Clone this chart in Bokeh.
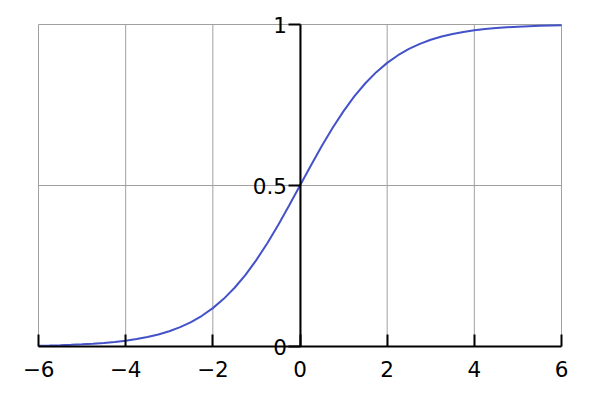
from bokeh.plotting import figure
from bokeh.models import LinearAxis, FixedTicker, ColumnDataSource
from bokeh.embed import file_html
from bokeh.resources import INLINE

x_vals = [-6, -5.75, -5.5, -5.25, -5, -4.75, -4.5, -4.25, -4, -3.75, -3.5, -3.25,
          -3, -2.75, -2.5, -2.25, -2, -1.75, -1.5, -1.25, -1, -0.75, -0.5, -0.25,
          0, 0.25, 0.5, 0.75, 1, 1.25, 1.5, 1.75, 2, 2.25, 2.5, 2.75, 3, 3.25,
          3.5, 3.75, 4, 4.25, 4.5, 4.75, 5, 5.25, 5.5, 5.75, 6]
y_vals = [0.0025, 0.0032, 0.0041, 0.0052, 0.0067, 0.0086, 0.0110, 0.0141, 0.0180,
          0.0230, 0.0293, 0.0373, 0.0474, 0.0601, 0.0759, 0.0954, 0.1192, 0.1480,
          0.1824, 0.2227, 0.2689, 0.3208, 0.3775, 0.4378, 0.5, 0.5622, 0.6225,
          0.6792, 0.7311, 0.7773, 0.8176, 0.8520, 0.8808, 0.9046, 0.9241, 0.9399,
          0.9526, 0.9627, 0.9707, 0.9770, 0.9820, 0.9859, 0.9890, 0.9914, 0.9933,
          0.9948, 0.9959, 0.9968, 0.9975]
x_ticks = [-6, -4, -2, 0, 2, 4, 6]
x_tick_labels = ["\u22126", "\u22124", "\u22122", "0", "2", "4", "6"]
y_ticks = [0, 0.5, 1]
y_tick_labels = ["0", "0.5", "1"]

FONT = "DejaVu Sans"
FSIZE = "21.5px"

# pixel geometry: x=-6 at 38px, x=6 at 561px; y=1 at 24px, y=0 at 346px
px_x = (561 - 38) / 12.0
px_y = (346 - 24) / 1.0
left, right, top, bottom = 16, 580, 8, 390
x_start = -6 - (38 - left) / px_x
x_end = 6 + (right - 561) / px_x
y_end = 1 + (24 - top) / px_y
y_start = -(bottom - 346) / px_y

x_lo, x_hi = x_ticks[0], x_ticks[-1]
y_lo, y_hi = y_ticks[0], y_ticks[-1]

p = figure(frame_width=right - left, frame_height=bottom - top,
           x_range=(x_start, x_end), y_range=(y_start, y_end),
           x_axis_type=None, y_axis_type=None, output_backend="svg",
           toolbar_location=None, min_border_left=left, min_border_top=top,
           min_border_right=4, min_border_bottom=2)
p.outline_line_color = None
p.background_fill_color = "white"
p.border_fill_color = "white"
p.xgrid.visible = False
p.ygrid.visible = False

# grid lines limited to the data box
vsrc = ColumnDataSource(dict(x0=x_ticks, x1=x_ticks,
                             y0=[y_lo] * len(x_ticks), y1=[y_hi] * len(x_ticks)))
p.segment("x0", "y0", "x1", "y1", source=vsrc, line_color="#a0a0a0", line_width=1)
hsrc = ColumnDataSource(dict(y0=y_ticks[1:], y1=y_ticks[1:],
                             x0=[x_lo] * (len(y_ticks) - 1), x1=[x_hi] * (len(y_ticks) - 1)))
p.segment("x0", "y0", "x1", "y1", source=hsrc, line_color="#a0a0a0", line_width=1)

src = ColumnDataSource(dict(x=x_vals, y=y_vals))
p.line("x", "y", source=src, line_color="#4352c8", line_width=2)

xt = FixedTicker(ticks=x_ticks)
yt = FixedTicker(ticks=y_ticks)

xa = LinearAxis(ticker=xt, fixed_location=0, bounds=(x_lo, x_hi),
                major_label_overrides=dict(zip(x_ticks, x_tick_labels)))
xa.axis_line_width = 2
xa.axis_line_color = "black"
xa.major_tick_in = 12
xa.major_tick_out = 0
xa.major_tick_line_width = 2
xa.major_tick_line_color = "black"
xa.minor_tick_line_color = None
xa.major_label_text_font = FONT
xa.major_label_text_font_size = FSIZE
xa.major_label_text_color = "black"
xa.major_label_standoff = 14
p.add_layout(xa, "below")

ya = LinearAxis(ticker=yt, fixed_location=0, bounds=(y_lo, y_hi),
                major_label_overrides=dict(zip(y_ticks, y_tick_labels)))
ya.axis_line_width = 2
ya.axis_line_color = "black"
ya.major_tick_in = 0
ya.major_tick_out = 12
ya.major_tick_line_width = 2
ya.major_tick_line_color = "black"
ya.minor_tick_line_color = None
ya.major_label_text_font = FONT
ya.major_label_text_font_size = FSIZE
ya.major_label_text_color = "black"
ya.major_label_standoff = 1
p.add_layout(ya, "left")

open("out.html", "w").write(file_html(p, INLINE))
